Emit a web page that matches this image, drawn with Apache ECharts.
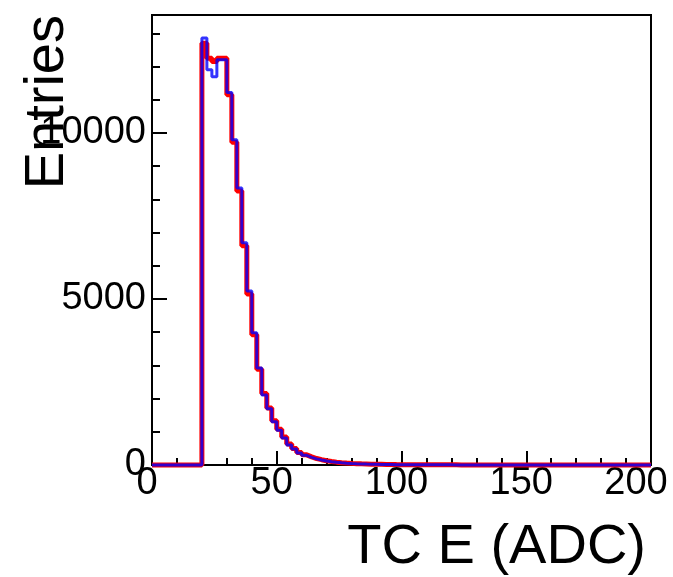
<!DOCTYPE html>
<html>
<head>
<meta charset="utf-8">
<script src="https://cdn.jsdelivr.net/npm/echarts@6/dist/echarts.min.js"></script>
<style>
html,body{margin:0;padding:0;background:#fff;}
#chart{width:673px;height:577px;}
</style>
</head>
<body>
<div id="chart"></div>
<script>
// Histogram binning (x axis: TC E in ADC)
const X_MIN = 0;
const BIN_WIDTH = 2;
const xTickValues = [0, 50, 100, 150, 200];
const yTickValues = [0, 5000, 10000];
const xTitle = 'TC E (ADC)';
const yTitle = 'Entries';

// bin contents, bins of width 2 starting at 0 (100 bins)
const blueCounts = [
  0,0,0,0,0,0,0,0,0,0,
  12860,11900,11690,12200,12200,
  11220,9790,8340,6690,5240,
  3980,2920,2110,1690,1300,
  1050,810,600,480,360,
  290,230,185,150,120,
  98,80,65,54,45,
  38,32,27,23,20,
  17,15,13,11,10,
  9,8,7,7,6,
  5,5,4,4,4,
  3,3,3,3,2,
  2,2,2,2,2,
  2,1,1,1,1,
  1,1,1,1,1,
  1,1,1,1,1,
  1,1,0,1,0,
  0,1,0,0,1,
  0,0,1,0,0
];
const redCounts = [
  0,0,0,0,0,0,0,0,0,0,
  12700,12250,12150,12250,12250,
  11150,9720,8250,6600,5150,
  3920,2880,2150,1720,1330,
  1080,840,630,500,380,
  305,245,195,160,128,
  105,86,70,58,49,
  41,35,30,25,22,
  19,16,14,12,11,
  10,9,8,7,7,
  6,5,5,5,4,
  4,3,3,3,3,
  3,2,2,2,2,
  2,2,2,1,1,
  1,1,1,1,1,
  1,1,1,1,1,
  1,1,1,1,1,
  1,1,1,1,0,
  1,0,1,0,0
];

function toSteps(counts) {
  const pts = counts.map((c, i) => [X_MIN + i * BIN_WIDTH, c]);
  pts.push([X_MIN + counts.length * BIN_WIDTH, counts[counts.length - 1]]);
  return pts;
}

const FONT = "'Liberation Sans', Arial, Helvetica, sans-serif";
const Y_MAX = 13550;
const X_MAX = 200;

const chart = echarts.init(document.getElementById('chart'), null, {renderer: 'canvas'});
chart.setOption({
  animation: false,
  backgroundColor: '#ffffff',
  grid: {
    left: 152, right: 22, top: 15, bottom: 112,
    show: true, borderColor: '#000', borderWidth: 2, backgroundColor: 'transparent',
    containLabel: false, outerBoundsMode: 'none'
  },
  xAxis: {
    type: 'value', min: X_MIN, max: X_MAX, interval: 50,
    axisLine: {show: true, onZero: false, lineStyle: {color: '#000', width: 2}},
    axisTick: {show: true, inside: true, length: 14, lineStyle: {color: '#000', width: 2}},
    minorTick: {show: true, splitNumber: 5, length: 7, lineStyle: {color: '#000', width: 2}},
    splitLine: {show: false},
    axisLabel: {
      show: true, color: '#000', fontSize: 38, fontFamily: FONT, margin: 0,
      formatter: function (v) {
        if (xTickValues.indexOf(v) < 0) return '';
        return v === X_MAX ? '{last|' + v + '}' : '{n|' + v + '}';
      },
      rich: {
        n: {fontSize: 38, fontFamily: FONT, color: '#000', padding: [0, 10, 0, 0]},
        last: {fontSize: 38, fontFamily: FONT, color: '#000', padding: [0, 30, 0, 0]}
      }
    }
  },
  yAxis: [
    {
      type: 'value', min: 0, max: Y_MAX, interval: 1000, position: 'left',
      axisLine: {show: true, onZero: false, lineStyle: {color: '#000', width: 2}},
      axisTick: {show: true, inside: true, length: 8, lineStyle: {color: '#000', width: 2}},
      splitLine: {show: false},
      axisLabel: {show: false}
    },
    {
      type: 'value', min: 0, max: Y_MAX, interval: 5000, position: 'left',
      axisLine: {show: false},
      axisTick: {show: true, inside: true, length: 15, lineStyle: {color: '#000', width: 2}},
      splitLine: {show: false},
      axisLabel: {
        show: true, color: '#000', fontSize: 38, fontFamily: FONT, margin: 6,
        showMaxLabel: false,
        formatter: function (v) { return yTickValues.indexOf(v) >= 0 ? String(v) : ''; }
      }
    }
  ],
  series: [
    {
      type: 'line', name: 'red', yAxisIndex: 0, step: 'end', showSymbol: false, symbol: 'none',
      data: toSteps(redCounts), clip: false,
      lineStyle: {color: '#ff0000', width: 5}, z: 5
    },
    {
      type: 'line', name: 'blue', yAxisIndex: 0, step: 'end', showSymbol: false, symbol: 'none',
      data: toSteps(blueCounts), clip: false,
      lineStyle: {color: '#0000ff', width: 3, opacity: 0.8}, z: 6
    }
  ],
  graphic: [
    {
      type: 'text', x: 48, y: 15, rotation: Math.PI / 2,
      style: {text: yTitle, fontSize: 56, fontFamily: FONT, fill: '#000', textAlign: 'right', textVerticalAlign: 'middle'}
    },
    {
      type: 'text', x: 646, y: 548,
      style: {text: xTitle, fontSize: 56, fontFamily: FONT, fill: '#000', textAlign: 'right', textVerticalAlign: 'middle'}
    }
  ]
});
</script>
</body>
</html>
